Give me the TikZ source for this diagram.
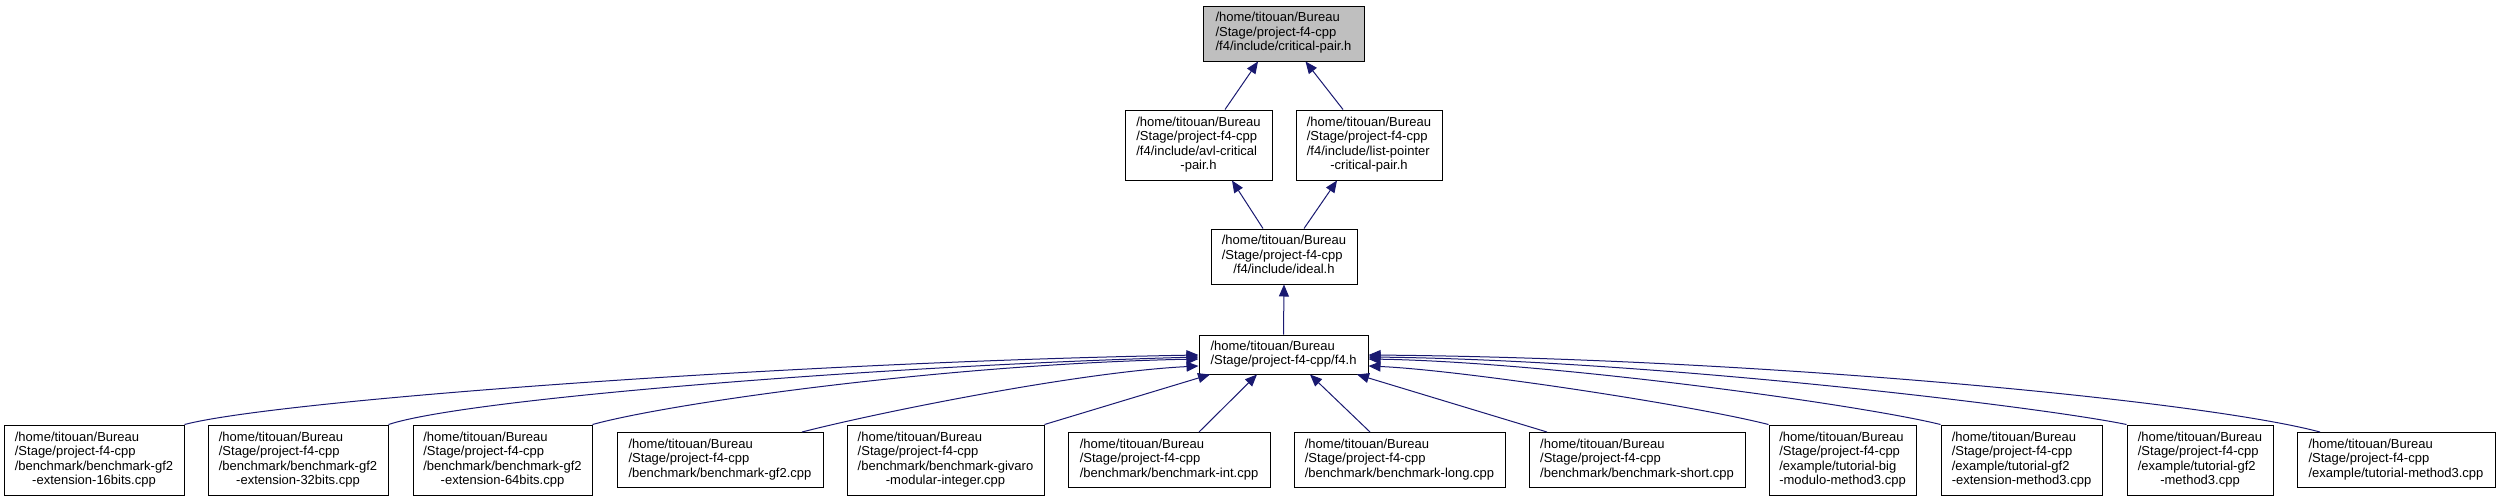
\documentclass[tikz,border=0pt]{standalone}
\usepackage{fontspec}
\setmainfont{Liberation Sans}
\usetikzlibrary{arrows.meta}
\definecolor{bleunuit}{HTML}{191970}
\definecolor{grisracine}{HTML}{BFBFBF}
% lignes a gauche, derniere ligne centree
\newcommand{\etiq}[2]{\begin{tabular}{@{}l@{}}#1\\\multicolumn{1}{@{}c@{}}{#2}\end{tabular}}
\begin{document}
\begin{tikzpicture}[x=1pt,y=-1pt]
	% Styles
	\tikzstyle{fichier}=[draw=black,line width=1pt,fill=white,inner sep=0pt,font=\fontsize{13}{14.5}\selectfont]
	\tikzstyle{racine}=[fichier,fill=grisracine]
	\tikzstyle{haut2}=[minimum height=39pt]
	\tikzstyle{haut3}=[minimum height=55pt]
	\tikzstyle{haut4}=[minimum height=70pt]
	\tikzstyle{fleche}=[-{Triangle[length=12pt,width=10pt]},draw=bleunuit,line width=1pt]
	% Niveaux
	\def\LigneA{33.5}
	\def\LigneB{145}
	\def\LigneC{256.5}
	\def\LigneD{354.5}
	\def\LigneE{460}
	\def\Chemin{/home/titouan/Bureau\\/Stage/project-f4-cpp}
	\useasboundingbox (0,0) rectangle (2500,501);
	% Noeuds
	\node[racine,haut3,minimum width=161pt] (critique) at (1283.5,\LigneA) {\etiq{\Chemin}{/f4/include/critical-pair.h}};
	\node[fichier,haut4,minimum width=147pt] (avl) at (1198.5,\LigneB) {\etiq{\Chemin\\/f4/include/avl-critical}{-pair.h}};
	\node[fichier,haut4,minimum width=146pt] (liste) at (1369,\LigneB) {\etiq{\Chemin\\/f4/include/list-pointer}{-critical-pair.h}};
	\node[fichier,haut3,minimum width=146pt] (ideal) at (1284,\LigneC) {\etiq{\Chemin}{/f4/include/ideal.h}};
	\node[fichier,haut2,minimum width=169pt] (f4) at (1283.5,\LigneD) {\etiq{/home/titouan/Bureau}{/Stage/project-f4-cpp/f4.h}};
	%
	\node[fichier,haut4,minimum width=180pt] (bseize) at (94,\LigneE) {\etiq{\Chemin\\/benchmark/benchmark-gf2}{-extension-16bits.cpp}};
	\node[fichier,haut4,minimum width=180pt] (btrente) at (298,\LigneE) {\etiq{\Chemin\\/benchmark/benchmark-gf2}{-extension-32bits.cpp}};
	\node[fichier,haut4,minimum width=179pt] (bsoixante) at (502.5,\LigneE) {\etiq{\Chemin\\/benchmark/benchmark-gf2}{-extension-64bits.cpp}};
	\node[fichier,haut3,minimum width=206pt] (bgf) at (720,\LigneE) {\etiq{\Chemin}{/benchmark/benchmark-gf2.cpp}};
	\node[fichier,haut4,minimum width=197pt] (bgivaro) at (945.5,\LigneE) {\etiq{\Chemin\\/benchmark/benchmark-givaro}{-modular-integer.cpp}};
	\node[fichier,haut3,minimum width=202pt] (bint) at (1169,\LigneE) {\etiq{\Chemin}{/benchmark/benchmark-int.cpp}};
	\node[fichier,haut3,minimum width=211pt] (blong) at (1399.5,\LigneE) {\etiq{\Chemin}{/benchmark/benchmark-long.cpp}};
	\node[fichier,haut3,minimum width=216pt] (bshort) at (1637,\LigneE) {\etiq{\Chemin}{/benchmark/benchmark-short.cpp}};
	\node[fichier,haut4,minimum width=147pt] (tbig) at (1842.5,\LigneE) {\etiq{\Chemin\\/example/tutorial-big}{-modulo-method3.cpp}};
	\node[fichier,haut4,minimum width=161pt] (tgfext) at (2021.5,\LigneE) {\etiq{\Chemin\\/example/tutorial-gf2}{-extension-method3.cpp}};
	\node[fichier,haut4,minimum width=146pt] (tgf) at (2200,\LigneE) {\etiq{\Chemin\\/example/tutorial-gf2}{-method3.cpp}};
	\node[fichier,haut3,minimum width=198pt] (tmeth) at (2396,\LigneE) {\etiq{\Chemin}{/example/tutorial-method3.cpp}};
	% Arcs
	\draw[fleche] ([xshift=26.5pt]avl.north) -- ([xshift=-25.5pt]critique.south);
	\draw[fleche] ([xshift=-26pt]liste.north) -- ([xshift=22pt]critique.south);
	\draw[fleche] ([xshift=-21pt]ideal.north) -- ([xshift=33.5pt]avl.south);
	\draw[fleche] ([xshift=20pt]ideal.north) -- ([xshift=-32pt]liste.south);
	\draw[fleche] (f4.north) -- (ideal.south);
	%
	\draw[fleche] (bseize.north east) .. controls +(96,-25) and +(-399,7) .. ([yshift=-0.5pt]f4.west);
	\draw[fleche] (btrente.north east) .. controls +(82,-27) and +(-299,8) .. ([yshift=-2.5pt]f4.west);
	\draw[fleche] (bsoixante.north east) .. controls +(80,-22) and +(-249,5) .. ([yshift=-4.5pt]f4.west);
	\draw[fleche] ([xshift=82pt]bgf.north) .. controls +(78,-20) and +(-119,6) .. ([yshift=-11.5pt]f4.west);
	\draw[fleche] (bgivaro.north east) -- ([xshift=-73.5pt]f4.south);
	\draw[fleche] ([xshift=30pt]bint.north) -- ([xshift=-26.5pt]f4.south);
	\draw[fleche] ([xshift=-29.5pt]blong.north) -- ([xshift=26.5pt]f4.south);
	\draw[fleche] ([xshift=-90pt]bshort.north) -- ([xshift=73.5pt]f4.south);
	\draw[fleche] (tbig.north west) .. controls +(-79,-20) and +(92,4) .. ([yshift=-11.5pt]f4.east);
	\draw[fleche] (tgfext.north west) .. controls +(-81,-20) and +(182,3) .. ([yshift=-4.5pt]f4.east);
	\draw[fleche] (tgf.north west) .. controls +(-87,-18) and +(282,3) .. ([yshift=-2.5pt]f4.east);
	\draw[fleche] ([xshift=-76pt]tmeth.north) .. controls +(-120,-32) and +(382,3) .. ([yshift=-0.5pt]f4.east);
\end{tikzpicture}
\end{document}
